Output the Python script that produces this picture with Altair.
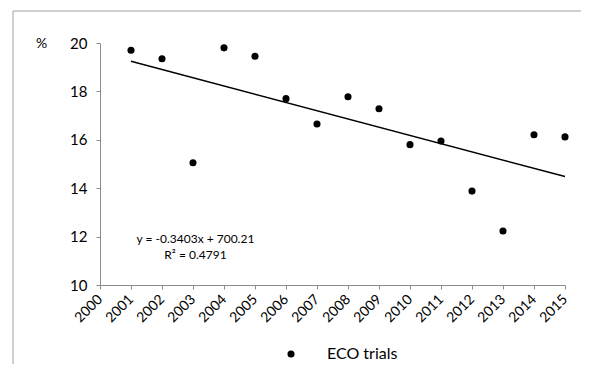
import altair as alt
import pandas as pd

years = list(range(2001, 2016))
values = [19.70, 19.35, 15.05, 19.80, 19.45, 17.70, 16.65, 17.78, 17.28, 15.80, 15.95, 13.88, 12.23, 16.21, 16.12]
series_name = "ECO trials"

x_ticks = list(range(2000, 2016))
y_ticks = [10, 12, 14, 16, 18, 20]

ann_text = ["y = -0.3403x + 700.21", "R² = 0.4791"]
ann_x = [2003.08, 2003.08]
ann_y = [11.92, 11.26]

FONT = "Lato"
AXIS_GRAY = "#8c8c8c"
FRAME_GRAY = "#bfbfbf"

df = pd.DataFrame({"year": years, "value": values, "series": [series_name] * len(years)})
ann = pd.DataFrame({"text": ann_text, "x": ann_x, "y": ann_y})

xscale = alt.Scale(domain=[2000, 2015], nice=False, zero=False)
yscale = alt.Scale(domain=[10, 20], nice=False, zero=False)

xaxis = alt.Axis(values=x_ticks, format="d", labelAngle=-45, labelAlign="right", labelBaseline="middle",
                 labelFont=FONT, labelFontSize=14, labelColor="black", labelPadding=8,
                 grid=False, domainColor=AXIS_GRAY, tickColor=AXIS_GRAY, tickSize=4, title=None,
                 labelOverlap=False, labelFlush=False)
yaxis = alt.Axis(values=y_ticks, labelFont=FONT, labelFontSize=15, labelColor="black", labelPadding=9,
                 grid=False, domainColor=AXIS_GRAY, tickColor=AXIS_GRAY, tickSize=4,
                 title="%", titleAngle=0, titleX=-59, titleY=0, titleAlign="center", titleBaseline="middle",
                 titleFont=FONT, titleFontSize=14, titleFontWeight="normal", titleColor="black")

points = alt.Chart(df).mark_circle(size=50, opacity=1).encode(
    x=alt.X("year:Q", scale=xscale, axis=xaxis),
    y=alt.Y("value:Q", scale=yscale, axis=yaxis),
    color=alt.Color("series:N", scale=alt.Scale(range=["black"]),
                    legend=alt.Legend(title=None, orient="none", legendX=183, legendY=303, padding=0,
                                      labelFont=FONT, labelFontSize=16, labelColor="black",
                                      labelOffset=28, symbolType="circle", symbolSize=50,
                                      symbolFillColor="black", symbolStrokeWidth=0)),
)

trend = alt.Chart(df).transform_regression("year", "value").mark_line(color="black", strokeWidth=1.5).encode(
    x=alt.X("year:Q", scale=xscale, axis=xaxis),
    y=alt.Y("value:Q", scale=yscale, axis=yaxis),
)

labels = alt.Chart(ann).mark_text(font=FONT, fontSize=12, color="black", align="center", baseline="middle").encode(
    x=alt.X("x:Q", scale=xscale, axis=xaxis),
    y=alt.Y("y:Q", scale=yscale, axis=yaxis),
    text="text:N",
)

frame_data = alt.Data(values=[{}])
frame_top = alt.Chart(frame_data).mark_rule(color=FRAME_GRAY, strokeWidth=1.5).encode(
    x=alt.value(-87), x2=alt.value(520), y=alt.value(-32))
frame_left = alt.Chart(frame_data).mark_rule(color=FRAME_GRAY, strokeWidth=1.5).encode(
    x=alt.value(-87), y=alt.value(-32), y2=alt.value(340))

chart = alt.layer(frame_top, frame_left, trend, points, labels).properties(
    width=465, height=242,
    autosize=alt.AutoSizeParams(type="none"),
    padding={"left": 92, "top": 35, "right": 16, "bottom": 79},
).configure_view(stroke=None)

chart.save("out.html", embed_options={"renderer": "svg", "actions": False})
